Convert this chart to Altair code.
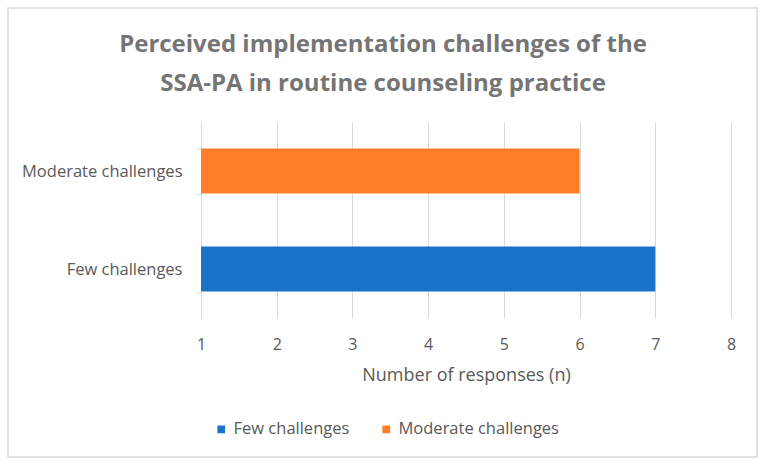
import altair as alt
import pandas as pd

categories = ["Few challenges", "Moderate challenges"]
responses = [7, 6]
colors = ["#1A73C8", "#FF7F27"]

df = pd.DataFrame({"category": categories, "n": responses})

W, H = 530, 196
PL, PT = 201, 122

font = "Open Sans"
grey = "#595959"

bars = alt.Chart(df).mark_bar(size=45).encode(
    y=alt.Y("category:N", sort=["Moderate challenges", "Few challenges"],
            scale=alt.Scale(paddingInner=0.54, paddingOuter=0.27),
            axis=alt.Axis(title=None, tickBand="extent", domainColor="#D9D9D9",
                          tickColor="#D9D9D9", tickSize=5, labelPadding=14,
                          labelFont=font, labelFontSize=16.5, labelColor=grey,
                          grid=False)),
    x=alt.X("n:Q", scale=alt.Scale(domain=[1, 8], zero=False, nice=False),
            axis=alt.Axis(title="Number of responses (n)", values=list(range(1, 9)),
                          tickCount=8, domain=False, ticks=False, grid=True,
                          gridColor="#D9D9D9", labelPadding=18, labelFont=font,
                          labelFontSize=16, labelColor=grey, titleFont=font,
                          titleFontSize=18, titleColor=grey, titleFontWeight="normal",
                          titlePadding=14, format="d", labelFlush=False)),
    x2=alt.datum(1),
    color=alt.Color("category:N", scale=alt.Scale(domain=categories, range=colors),
                    legend=alt.Legend(title=None, orient="none", direction="horizontal",
                                      legendX=12, legendY=299, symbolType="square",
                                      symbolSize=60, labelFont=font, labelFontSize=16.5,
                                      labelColor=grey, columnPadding=28, labelLimit=300,
                                      symbolStrokeWidth=0)),
)

border = alt.Chart(pd.DataFrame({"a": [0]})).mark_rect(
    fill="transparent", stroke="#D9D9D9", strokeWidth=1.5
).encode(
    x=alt.value(8 - PL), x2=alt.value(757 - PL),
    y=alt.value(8 - PT), y2=alt.value(457 - PT),
)

chart = alt.layer(border, bars).properties(
    width=W, height=H,
    title=alt.TitleParams(
        ["Perceived implementation challenges of the",
         "SSA-PA in routine counseling practice"],
        font=font, fontSize=24, fontWeight="bold", color="#757575",
        anchor="middle", dx=-83, offset=-89, lineHeight=39,
    ),
    padding={"left": PL, "top": PT, "right": 766 - PL - W, "bottom": 467 - PT - H},
    autosize=alt.AutoSizeParams(type="none"),
).configure_view(stroke=None)

chart.save("out.html", embed_options={"renderer": "svg", "actions": False})
